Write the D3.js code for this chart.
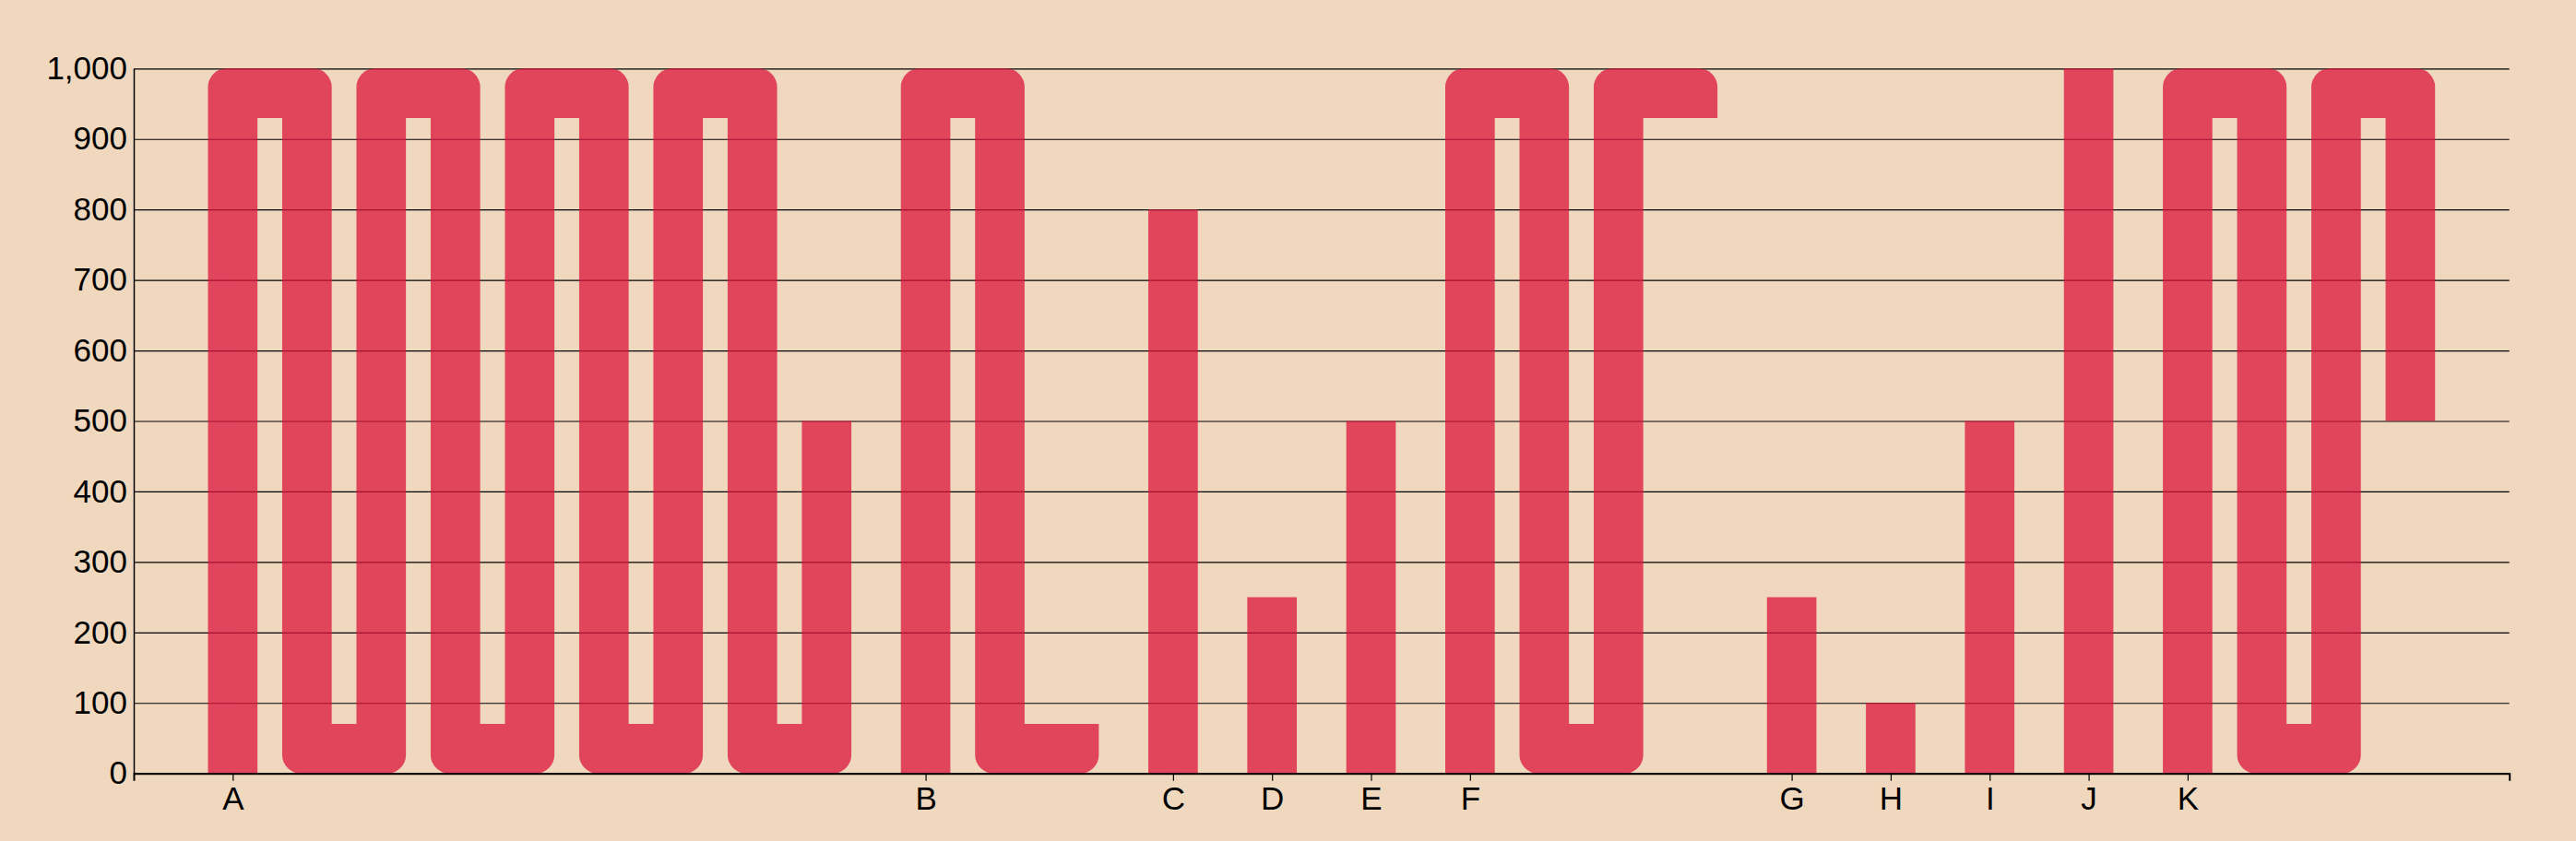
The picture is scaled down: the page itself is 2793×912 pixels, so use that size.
<!DOCTYPE html>
<html><head><meta charset="utf-8">
<script src="https://cdn.jsdelivr.net/npm/d3@7"></script>
<style>
html,body{margin:0;padding:0;background:#F0D8BF;}
svg{display:block;}
text{font-family:"Liberation Sans",Arial,sans-serif;}
</style></head><body>
<svg id="chart" width="2793" height="912"></svg>
<script>
// ---- data ----
const categories = ["A","B","C","D","E","F","G","H","I","J","K"];
const values = [8500, 2050, 800, 250, 500, 3050, 250, 100, 500, 1000, 3500];
const yTickValues = [0,100,200,300,400,500,600,700,800,900,1000];
const wrapMax = 1000;

// ---- layout ----
const W = 2793, H = 912;
const margin = {top: 74.3, right: 72.3, bottom: 73.3, left: 145};
const width = W - margin.left - margin.right;
const height = H - margin.top - margin.bottom;

// layout in "units": column = 2 units, gap between wrapped columns = 1, gap between bars = 2, outer pad = 3
const layout = [];
let u = 3;
values.forEach((v, i) => {
  const full = Math.floor(v / wrapMax);
  const rem = v - full * wrapMax;
  const cols = full + (rem > 0 ? 1 : 0);
  layout.push({cat: categories[i], v, full, rem, cols, start: u});
  u += cols * 2 + (cols - 1) + 2;
});
const totalUnits = u - 2 + 3;

const x = d3.scaleLinear().domain([0, totalUnits]).range([0, width]);
const y = d3.scaleLinear().domain([0, wrapMax]).range([height, 0]);

const svg = d3.select("#chart");
svg.append("rect").attr("width", W).attr("height", H).attr("fill", "#F0D8BF");
const g = svg.append("g").attr("transform", `translate(${margin.left},${margin.top})`);

// y axis + grid
const yAxis = g.append("g")
  .call(d3.axisLeft(y).tickValues(yTickValues).tickFormat(d3.format(","))
    .tickSize(-width).tickSizeOuter(0).tickPadding(7));
yAxis.selectAll(".tick line").attr("stroke", "#000").attr("stroke-width", 1.2);
yAxis.select(".domain").attr("stroke", "#000").attr("stroke-width", 1.5);
yAxis.selectAll("text").attr("font-size", 35).attr("fill", "#000")
  .attr("font-family", "'Liberation Sans', Arial, sans-serif");

// bars (snake wrapping)
const colW = x(2) - x(0);
const t = colW;          // turn thickness in px
const rr = 20;           // outer corner radius

const barsG = g.append("g").attr("class", "bars").attr("opacity", 0.75).attr("fill", "crimson");

layout.forEach(b => {
  const bg = barsG.append("g");
  for (let c = 0; c < b.cols; c++) {
    const asc = c % 2 === 0;
    const fillVal = c < b.full ? wrapMax : b.rem;
    const hasIn = c > 0, hasOut = c < b.cols - 1;
    const x0 = x(b.start + 3 * c), x1 = x(b.start + 3 * c + 2);
    let top, bottom;
    if (asc) {
      bottom = hasIn ? y(0) - t : y(0);
      top = hasOut ? y(wrapMax) + t : y(fillVal);
    } else {
      top = y(wrapMax) + t;
      bottom = hasOut ? y(0) - t : y(wrapMax - fillVal);
    }
    if (bottom - top > 0) {
      bg.append("rect").attr("x", x0).attr("y", top)
        .attr("width", x1 - x0).attr("height", bottom - top);
    }
    if (hasOut) {
      const cx0 = x0, cx1 = x(b.start + 3 * c + 5);
      let d;
      if (asc) {
        const ya = y(wrapMax), yb = y(wrapMax) + t;
        d = `M${cx0},${yb}V${ya + rr}A${rr},${rr} 0 0 1 ${cx0 + rr},${ya}H${cx1 - rr}A${rr},${rr} 0 0 1 ${cx1},${ya + rr}V${yb}Z`;
      } else {
        const ya = y(0) - t, yb = y(0);
        d = `M${cx0},${ya}V${yb - rr}A${rr},${rr} 0 0 0 ${cx0 + rr},${yb}H${cx1 - rr}A${rr},${rr} 0 0 0 ${cx1},${yb - rr}V${ya}Z`;
      }
      bg.append("path").attr("d", d);
    }
  }
});

// x axis
const xAxis = g.append("g").attr("transform", `translate(0,${height})`)
  .call(d3.axisBottom(x).tickValues(layout.map(d => d.start + 1))
    .tickFormat((d, i) => categories[i]).tickSize(8).tickPadding(6));
xAxis.select(".domain").attr("stroke", "#000").attr("stroke-width", 2);
xAxis.selectAll(".tick line").attr("stroke", "#000").attr("stroke-width", 1.2);
xAxis.selectAll("text").attr("font-size", 35).attr("fill", "#000")
  .attr("font-family", "'Liberation Sans', Arial, sans-serif");
</script>
</body></html>
